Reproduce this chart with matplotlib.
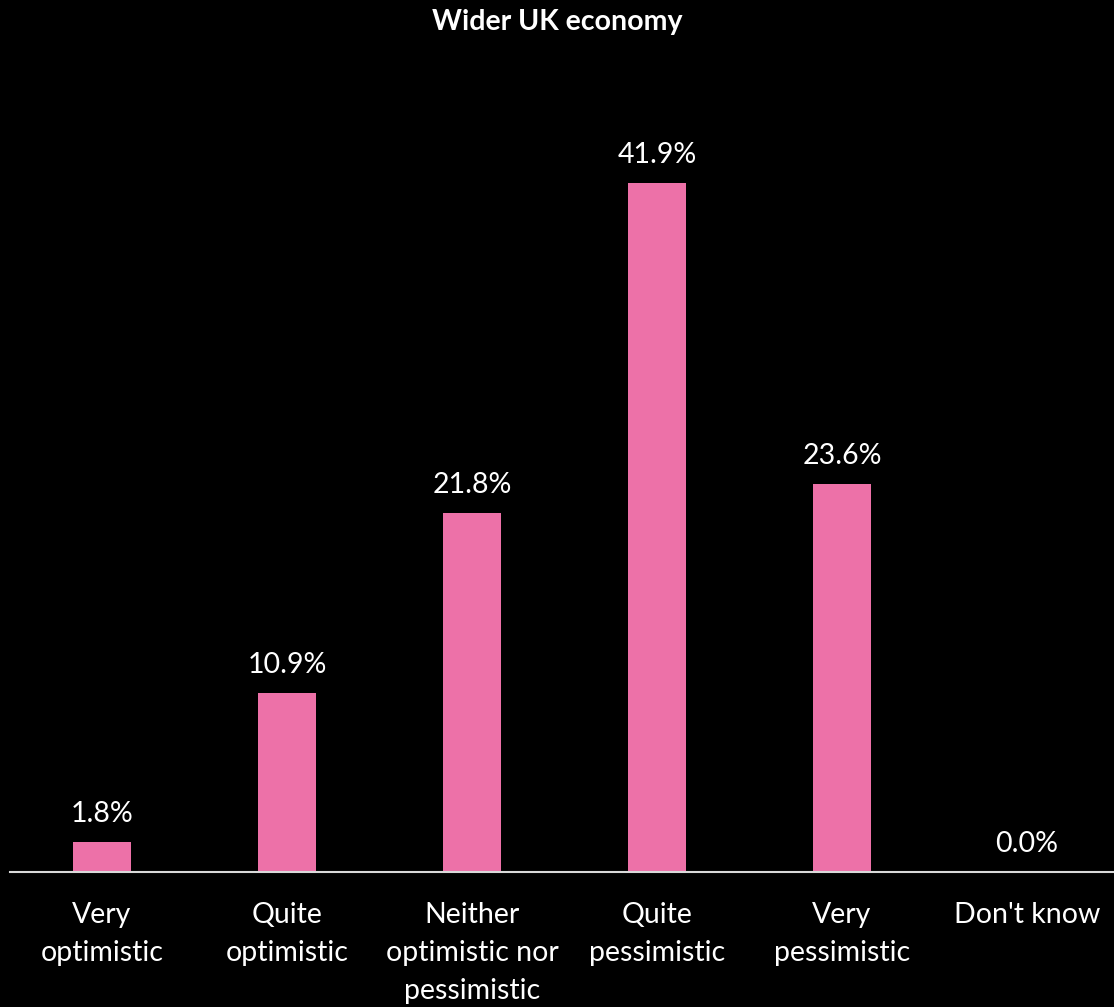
import matplotlib
matplotlib.use("Agg")
import matplotlib.pyplot as plt
from matplotlib.transforms import offset_copy

plt.rcParams['font.family'] = ['Lato', 'DejaVu Sans']

categories = ["Very\noptimistic", "Quite\noptimistic", "Neither\noptimistic nor\npessimistic",
              "Quite\npessimistic", "Very\npessimistic", "Don't know"]
values = [1.8, 10.9, 21.8, 41.9, 23.6, 0.0]
title = "Wider UK economy"

W, H = 1114, 1007
fig = plt.figure(figsize=(W / 100, H / 100), dpi=100, facecolor='black')
ax = fig.add_axes([9.5 / W, (H - 872) / H, 1110 / W, (872 - 60) / H])
ax.set_facecolor('black')

x = list(range(len(categories)))
ax.bar(x, values, width=0.315, color='#ED71A8', zorder=2)
ax.set_xlim(-0.5, len(categories) - 0.5)
ax.set_ylim(0, (872 - 60) / 16.45)

for xi, v in zip(x, values):
    ax.annotate(f"{v:.1f}%", (xi, v), xytext=(0, 14.5), textcoords='offset points',
                ha='center', va='baseline', color='white', fontsize=20.5)

# category labels drawn as text so the multi-line spacing can be set
ax.set_xticks([])
label_tf = offset_copy(ax.get_xaxis_transform(), fig=fig, x=0, y=-21.5, units='points')
for xi, cat in zip(x, categories):
    ax.text(xi, 0, cat, transform=label_tf, ha='center', va='top', color='white',
            fontsize=20.5, linespacing=1.58, multialignment='center')

ax.set_yticks([])
for side in ['left', 'right', 'top']:
    ax.spines[side].set_visible(False)
ax.spines['bottom'].set_color('#D9D9D9')
ax.spines['bottom'].set_linewidth(1.5)

fig.text(0.5, 1 - 22 / H, title, ha='center', va='center', color='white',
         fontsize=20.5, fontweight='bold')

fig.savefig('out.png', dpi=100, facecolor='black')
